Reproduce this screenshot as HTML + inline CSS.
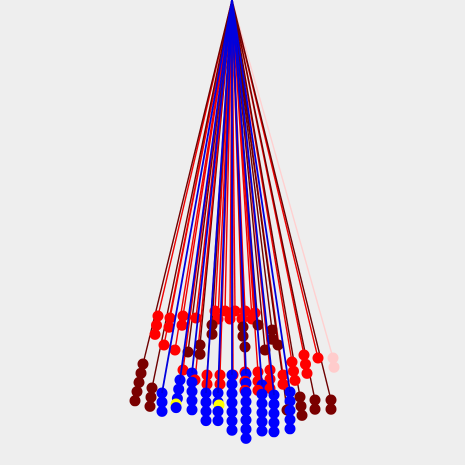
<!DOCTYPE html>
<html><head><meta charset="utf-8"><style>
html,body{margin:0;padding:0;background:#eeeeee;}
svg{display:block;}
</style></head><body>
<svg id="chart" width="465" height="465" viewBox="0 0 465 465">
<rect width="465" height="465" fill="#eeeeee"/>
<g id="lines"></g><g id="balls"></g><g id="blines"></g>
</svg>
<script>
// string data: top ball position, ball count, drift per ball, colour group
const stringX = [215,225,235,245,255,218,230,242,252,158,170,183,196,164,175,188,200,212,243,258,272,278,265,245,183,195,207,220,233,245,258,270,283,292,304,318,333,143,152,287,300,315,331,162,180,192,206,218,232,246,262,274,290];
const stringY = [311,311,311,311,313,319,319,319,319,316,318,316,318,345,350,352,345,325,327,325,330,345,350,347,370,380,375,375,375,372,372,370,375,362,355,358,358,364,388,410,397,400,400,393,380,373,393,393,375,374,385,395,392];
const stringN = [1,1,1,1,1,1,1,1,1,3,2,2,1,1,1,1,2,2,2,1,2,1,1,1,1,1,2,2,1,3,3,3,2,3,3,1,2,5,3,1,3,2,2,3,4,5,4,4,7,8,6,5,5];
const stringDx = [0,0,0,0,0,0,0,0,0,-1.5,-1,-1,0,0,0,0,0,0,0,0,0,0,0,0,0,0,0,0,0,0,0,0,0,1.5,1.5,0,1,-2,-1,0,1,0,0,0,-1.3,0,0,0,0,0,0,0,0];
const stringC = ['r','r','r','r','r','r','r','r','r','r','r','r','r','r','r','d','d','d','d','d','d','d','d','d','r','r','r','r','r','r','r','r','r','r','r','r','p','d','d','d','d','d','d','b','b','b','b','b','b','b','b','b','b'];
const yellowX = [176,219];
const yellowY = [404,405];

const colors = {r:'#ff0000', d:'#7a0000', p:'#ffcccc', b:'#0000ff'};
const lineColors = {r:'#ee0000', d:'#6e0000', p:'#ffd0d0', b:'#0000dd'};
const apex = [232, 0];
const spacing = 9.2, R = 5.5;
const NS = 'http://www.w3.org/2000/svg';
const gl = document.getElementById('lines'), gb = document.getElementById('balls'), gbl = document.getElementById('blines');

const balls = [];
for (let i = 0; i < stringX.length; i++) {
  const c = stringC[i];
  const ln = document.createElementNS(NS, 'line');
  ln.setAttribute('x1', apex[0]); ln.setAttribute('y1', apex[1]);
  ln.setAttribute('x2', stringX[i]); ln.setAttribute('y2', stringY[i]);
  ln.setAttribute('stroke', lineColors[c]); ln.setAttribute('stroke-width', c === 'b' ? 1.8 : 1.4);
  
  
  (c === 'b' ? gbl : gl).appendChild(ln);
  for (let k = 0; k < stringN[i]; k++) {
    balls.push([stringX[i] + stringDx[i] * k, stringY[i] + k * spacing, colors[c]]);
  }
}
for (let j = 0; j < yellowX.length; j++) balls.push([yellowX[j], yellowY[j], '#ffff00']);
balls.sort((a, b) => a[1] - b[1]);
for (const b of balls) {
  const ci = document.createElementNS(NS, 'circle');
  ci.setAttribute('cx', b[0]); ci.setAttribute('cy', b[1]); ci.setAttribute('r', R);
  ci.setAttribute('fill', b[2]);
  
  
  gb.appendChild(ci);
}
</script>
</body></html>
